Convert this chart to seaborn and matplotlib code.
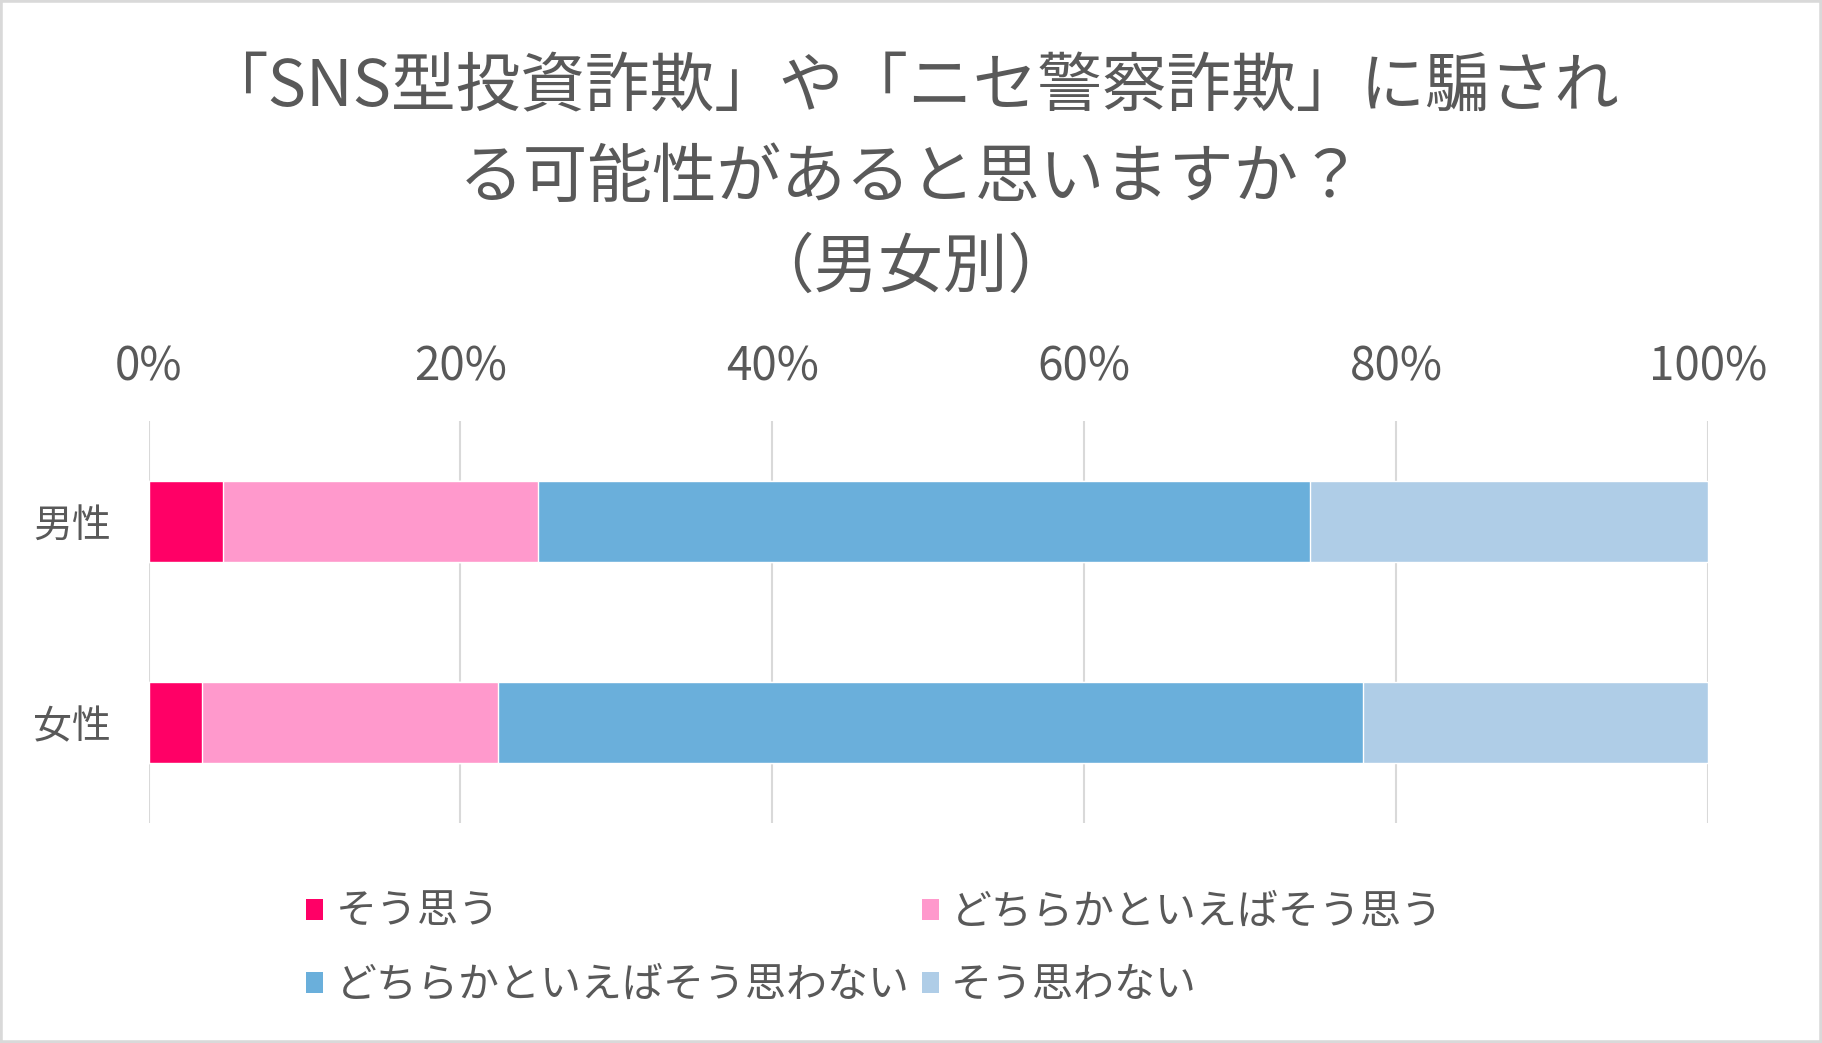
import pandas as pd
import numpy as np
import matplotlib
matplotlib.use("Agg")
import matplotlib.pyplot as plt
from matplotlib.patches import Patch, Rectangle
import seaborn as sns

# data (percent)
groups = ["男性", "女性"]
answers = ["そう思う", "どちらかといえばそう思う", "どちらかといえばそう思わない", "そう思わない"]
male = [4.8, 20.2, 49.5, 25.5]
female = [3.4, 19.0, 55.5, 22.1]
colors = ["#FF0066", "#FF99CC", "#6AAFDB", "#AFCDE7"]
ticks = [0, 20, 40, 60, 80, 100]
tick_labels = ["0%", "20%", "40%", "60%", "80%", "100%"]
title = "「SNS型投資詐欺」や「ニセ警察詐欺」に騙され\nる可能性があると思いますか？\n（男女別）"

sns.set_theme(style="white")
plt.rcParams['font.family'] = ['Noto Sans CJK JP', 'DejaVu Sans']
text_color = "#595959"

df = pd.DataFrame([male, female], index=groups, columns=answers)
cum = df.cumsum(axis=1)

fig = plt.figure(figsize=(18.22, 10.43), dpi=100)
ax = fig.add_axes([148.5 / 1822, 1 - 823 / 1043, (1708 - 148.5) / 1822, 402 / 1043])

# stacked bars: draw cumulative totals from longest to shortest
for col, c in reversed(list(zip(answers, colors))):
    sns.barplot(x=cum[col].values, y=groups, color=c, orient="h", width=0.4,
                ax=ax, saturation=1, zorder=2)

ax.set_xlim(0, 100)
ax.set_xticks(ticks)
ax.set_xticklabels(tick_labels)
ax.xaxis.tick_top()
ax.tick_params(axis="x", length=0, pad=21, labelsize=33, labelcolor=text_color)
ax.tick_params(axis="y", length=0, pad=27, labelsize=28, labelcolor=text_color)
ax.set_xlabel("")
ax.set_ylabel("")
ax.grid(axis="x", color="#D9D9D9", linewidth=1.5, zorder=0)
ax.set_axisbelow(True)
for s in ax.spines.values():
    s.set_visible(False)

fig.text(0.5, 1 - 55 / 1043, title, ha="center", va="top", fontsize=46.5,
         color=text_color, linespacing=1.46)

handles = [Patch(facecolor=c, edgecolor="none") for c in colors]
order = [0, 2, 1, 3]
fig.legend([handles[i] for i in order], [answers[i] for i in order],
           ncol=2, loc="upper left", bbox_to_anchor=(306 / 1822, 1 - 892 / 1043),
           frameon=False, fontsize=29.5, labelcolor=text_color,
           handlelength=0.42, handleheight=0.42, handletextpad=0.3,
           columnspacing=0.3, labelspacing=0.78, borderpad=0, borderaxespad=0)

fig.patches.append(Rectangle((0, 0), 1, 1, transform=fig.transFigure, fill=False,
                             edgecolor="#D9D9D9", linewidth=4))

fig.savefig("out.png", dpi=100)
